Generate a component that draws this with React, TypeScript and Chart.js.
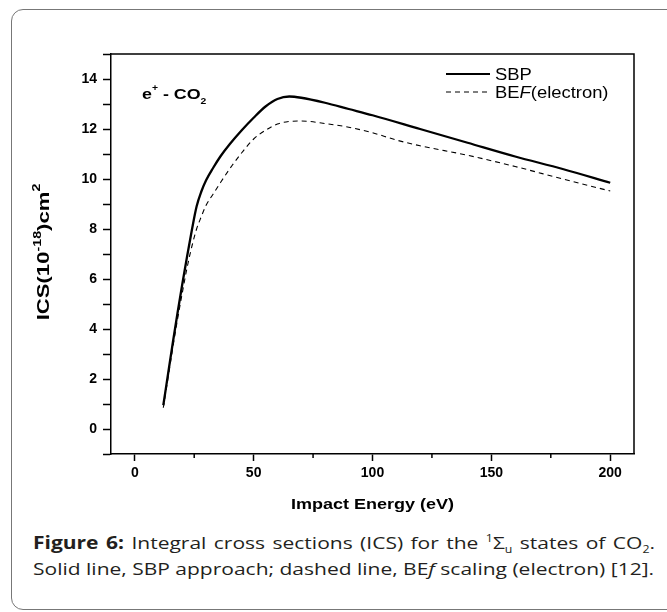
import React, { useEffect, useRef } from "react";
import { Chart, registerables } from "chart.js";

Chart.register(...registerables);

const energySBP = [12, 14, 16, 18, 20, 22, 24, 26, 28, 30, 33, 36, 40, 45, 50, 55, 60, 65, 70, 80, 90, 100, 120, 140, 160, 180, 200];
const icsSBP = [0.95, 2.2, 3.45, 4.65, 5.8, 6.9, 7.95, 8.9, 9.5, 9.95, 10.45, 10.9, 11.4, 11.95, 12.45, 12.9, 13.2, 13.3, 13.25, 13.05, 12.8, 12.55, 12.0, 11.45, 10.9, 10.4, 9.85];

const energyBEF = [12, 14, 16, 18, 20, 22, 24, 26, 28, 30, 33, 36, 41, 45, 50, 55, 60, 65, 70, 80, 90, 100, 110, 120, 140, 160, 180, 200];
const icsBEF = [0.85, 2.05, 3.25, 4.4, 5.45, 6.45, 7.3, 8.0, 8.5, 8.95, 9.4, 9.85, 10.55, 11.05, 11.6, 11.95, 12.2, 12.3, 12.32, 12.22, 12.07, 11.85, 11.56, 11.33, 10.95, 10.5, 10.0, 9.52];

const xTicks = [0, 25, 50, 75, 100, 125, 150, 175, 200];
const yTicks = [-1, 0, 1, 2, 3, 4, 5, 6, 7, 8, 9, 10, 11, 12, 13, 14, 15];

const seriesNames = ["SBP", "BEF(electron)"];

const FONT = '"Liberation Sans", Arimo, Arial, Helvetica, sans-serif';

type Seg = { t: string; size: number; dy?: number; italic?: boolean };

function drawRich(ctx: CanvasRenderingContext2D, segs: Seg[], x: number, y: number, bold: boolean, align: "left" | "center", stretch: number) {
  ctx.save();
  ctx.translate(x, y);
  ctx.scale(stretch, 1);
  ctx.textBaseline = "alphabetic";
  ctx.textAlign = "left";
  const fontOf = (s: Seg) => `${s.italic ? "italic " : ""}${bold ? "bold " : ""}${s.size}px ${FONT}`;
  let total = 0;
  for (const s of segs) {
    ctx.font = fontOf(s);
    total += ctx.measureText(s.t).width;
  }
  let cx = align === "center" ? -total / 2 : 0;
  for (const s of segs) {
    ctx.font = fontOf(s);
    ctx.fillText(s.t, cx, s.dy || 0);
    cx += ctx.measureText(s.t).width;
  }
  ctx.restore();
}

const decorPlugin = {
  id: "decor",
  afterDraw(chart: any) {
    const { ctx, chartArea: a, scales } = chart;
    ctx.save();
    ctx.strokeStyle = "#000";
    ctx.fillStyle = "#000";
    ctx.lineWidth = 1.5;
    ctx.beginPath();
    ctx.moveTo(a.left, a.top);
    ctx.lineTo(a.right, a.top);
    ctx.lineTo(a.right, a.bottom);
    ctx.stroke();
    xTicks.filter((v) => v % 50 !== 0).forEach((v) => {
      const px = scales.x.getPixelForValue(v);
      ctx.beginPath();
      ctx.moveTo(px, a.bottom);
      ctx.lineTo(px, a.bottom + 4);
      ctx.stroke();
    });
    const lx0 = a.right - 188;
    const lx1 = a.right - 144;
    const ly1 = a.top + 20;
    const ly2 = a.top + 38;
    ctx.lineWidth = 2.2;
    ctx.beginPath();
    ctx.moveTo(lx0, ly1);
    ctx.lineTo(lx1, ly1);
    ctx.stroke();
    ctx.lineWidth = 1.1;
    ctx.setLineDash([5, 4]);
    ctx.beginPath();
    ctx.moveTo(lx0, ly2);
    ctx.lineTo(lx1, ly2);
    ctx.stroke();
    ctx.setLineDash([]);
    drawRich(ctx, [{ t: seriesNames[0], size: 16 }], a.right - 139, ly1 + 6, false, "left", 1.15);
    drawRich(
      ctx,
      [
        { t: "BE", size: 16 },
        { t: "F", size: 16, italic: true },
        { t: "(electron)", size: 16 },
      ],
      a.right - 139,
      ly2 + 6,
      false,
      "left",
      1.15
    );
    drawRich(
      ctx,
      [
        { t: "e", size: 15.5 },
        { t: "+", size: 9, dy: -8 },
        { t: " - CO", size: 15.5 },
        { t: "2", size: 9, dy: 5 },
      ],
      a.left + 31,
      a.top + 45,
      true,
      "left",
      1.15
    );
    drawRich(ctx, [{ t: "Impact Energy (eV)", size: 15 }], (a.left + a.right) / 2, 508.5, true, "center", 1.2);
    ctx.save();
    ctx.translate(49, (a.top + a.bottom) / 2 - 2);
    ctx.rotate(-Math.PI / 2);
    drawRich(
      ctx,
      [
        { t: "ICS(10", size: 17 },
        { t: "-18", size: 11, dy: -8 },
        { t: ")cm", size: 17 },
        { t: "2", size: 11, dy: -9 },
      ],
      0,
      0,
      true,
      "center",
      1.3
    );
    ctx.restore();
    ctx.restore();
  },
};

export default function App() {
  const ref = useRef<HTMLCanvasElement | null>(null);
  useEffect(() => {
    if (!ref.current) return;
    const chart = new Chart(ref.current, {
      type: "line",
      data: {
        datasets: [
          {
            label: seriesNames[0],
            data: energySBP.map((x, i) => ({ x, y: icsSBP[i] })),
            borderColor: "#000",
            borderWidth: 2.3,
            pointRadius: 0,
            cubicInterpolationMode: "monotone",
            fill: false,
          },
          {
            label: seriesNames[1],
            data: energyBEF.map((x, i) => ({ x, y: icsBEF[i] })),
            borderColor: "#000",
            borderWidth: 1.1,
            borderDash: [5, 4],
            pointRadius: 0,
            cubicInterpolationMode: "monotone",
            fill: false,
          },
        ],
      },
      options: {
        responsive: false,
        animation: false,
        layout: { padding: { top: 54, right: 33, left: 0, bottom: 0 } },
        plugins: { legend: { display: false }, tooltip: { enabled: false } },
        scales: {
          x: {
            type: "linear",
            min: -10,
            max: 210,
            afterFit: (s: any) => {
              s.height = 76;
            },
            afterBuildTicks: (s: any) => {
              s.ticks = xTicks.map((v) => ({ value: v }));
            },
            border: { display: true, color: "#000", width: 1.5 },
            grid: {
              drawOnChartArea: false,
              drawTicks: true,
              tickLength: 7,
              tickWidth: 1.5,
              tickColor: (c: any) => (c.tick && c.tick.value % 50 === 0 ? "#000" : "rgba(0,0,0,0)"),
            },
            ticks: {
              autoSkip: false,
              maxRotation: 0,
              padding: 4,
              color: "#000",
              font: { family: FONT, size: 14, weight: "bold" },
              callback: (v: any) => (Number(v) % 50 === 0 ? String(v) : ""),
            },
          },
          y: {
            type: "linear",
            min: -1,
            max: 15,
            afterFit: (s: any) => {
              s.width = 111;
            },
            afterBuildTicks: (s: any) => {
              s.ticks = yTicks.map((v) => ({ value: v }));
            },
            border: { display: true, color: "#000", width: 1.5 },
            grid: {
              drawOnChartArea: false,
              drawTicks: true,
              tickLength: 8,
              tickWidth: 1.5,
              tickColor: "#000",
            },
            ticks: {
              autoSkip: false,
              padding: 6,
              color: "#000",
              font: { family: FONT, size: 14, weight: "bold" },
              callback: (v: any) => (Number(v) % 2 === 0 ? String(v) : ""),
            },
          },
        },
      },
      plugins: [decorPlugin],
    } as any);
    return () => chart.destroy();
  }, []);

  const supStyle: React.CSSProperties = { fontSize: 10, lineHeight: 0, position: "relative", top: -7, verticalAlign: "baseline" };
  const subStyle: React.CSSProperties = { fontSize: 10, lineHeight: 0, position: "relative", top: 4, verticalAlign: "baseline" };
  const capScale = 1.235;

  return (
    <div style={{ position: "fixed", left: 0, top: 0, width: 667, height: 612, overflow: "hidden", background: "#fff" }}>
      <div
        style={{
          position: "absolute",
          left: 11,
          top: 9,
          width: 700,
          height: 601,
          border: "1.5px solid #777",
          borderRadius: 12,
          boxSizing: "border-box",
        }}
      />
      <canvas ref={ref} width={667} height={530} style={{ position: "absolute", left: 0, top: 0, width: 667, height: 530 }} />
      <div
        style={{
          position: "absolute",
          left: 33,
          top: 530,
          width: 622 / capScale,
          transform: `scaleX(${capScale})`,
          transformOrigin: "0 0",
          fontFamily: '"Open Sans", sans-serif',
          fontSize: 17,
          lineHeight: "26px",
          color: "#231f20",
        }}
      >
        <div style={{ textAlign: "justify", textAlignLast: "justify", whiteSpace: "nowrap" }}>
          <b>Figure 6:</b> Integral cross sections (ICS) for the <span style={supStyle}>1</span>Σ
          <span style={subStyle}>u</span> states of CO<span style={subStyle}>2</span>.
        </div>
        <div style={{ whiteSpace: "nowrap" }}>
          Solid line, SBP approach; dashed line, BE<i>f</i> scaling (electron) [12].
        </div>
      </div>
    </div>
  );
}
